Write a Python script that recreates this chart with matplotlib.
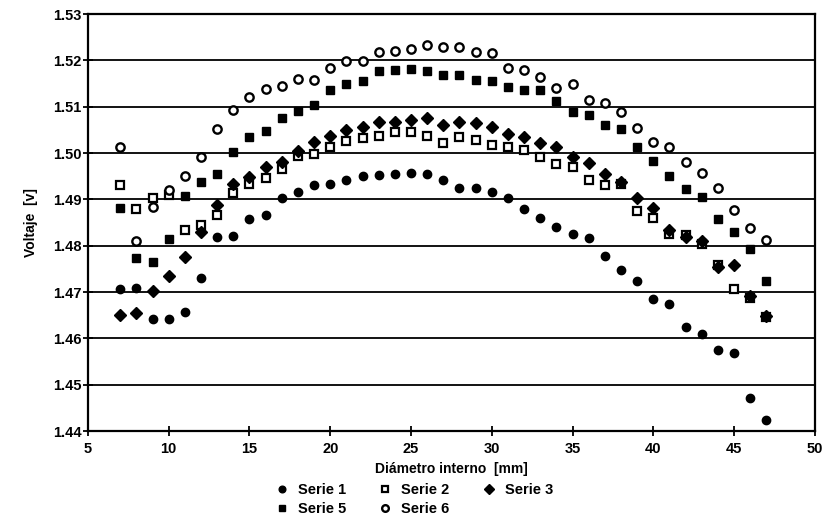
import matplotlib
matplotlib.use("Agg")
import matplotlib.pyplot as plt

plt.rcParams['font.family'] = ['Liberation Sans', 'DejaVu Sans']
plt.rcParams['font.weight'] = 'bold'

diametro = [7, 8, 9, 10, 11, 12, 13, 14, 15, 16, 17, 18, 19, 20, 21, 22, 23, 24,
            25, 26, 27, 28, 29, 30, 31, 32, 33, 34, 35, 36, 37, 38, 39, 40, 41,
            42, 43, 44, 45, 46, 47]

serie1 = [1.4706, 1.4708, 1.4641, 1.4643, 1.4657, 1.4731, 1.4818, 1.4820, 1.4857,
          1.4866, 1.4903, 1.4915, 1.4932, 1.4933, 1.4942, 1.4951, 1.4953, 1.4955,
          1.4956, 1.4955, 1.4942, 1.4924, 1.4924, 1.4917, 1.4904, 1.4879, 1.4860,
          1.4840, 1.4826, 1.4817, 1.4778, 1.4747, 1.4723, 1.4686, 1.4675, 1.4625,
          1.4610, 1.4574, 1.4568, 1.4472, 1.4425]

serie2 = [1.4932, 1.4879, 1.4902, 1.4909, 1.4835, 1.4845, 1.4866, 1.4914, 1.4934,
          1.4947, 1.4965, 1.4994, 1.4999, 1.5012, 1.5025, 1.5032, 1.5037, 1.5046,
          1.5046, 1.5037, 1.5022, 1.5035, 1.5028, 1.5017, 1.5012, 1.5007, 1.4991,
          1.4976, 1.4969, 1.4942, 1.4931, 1.4933, 1.4874, 1.4860, 1.4825, 1.4824,
          1.4804, 1.4758, 1.4706, 1.4688, 1.4646]

serie3 = [1.4651, 1.4655, 1.4703, 1.4735, 1.4775, 1.4830, 1.4889, 1.4934, 1.4949,
          1.4970, 1.4980, 1.5005, 1.5023, 1.5037, 1.5050, 1.5057, 1.5066, 1.5068,
          1.5071, 1.5076, 1.5061, 1.5068, 1.5064, 1.5057, 1.5042, 1.5034, 1.5021,
          1.5014, 1.4991, 1.4978, 1.4955, 1.4937, 1.4902, 1.4881, 1.4833, 1.4818,
          1.4810, 1.4754, 1.4759, 1.4692, 1.4649]

serie5 = [1.4882, 1.4773, 1.4766, 1.4814, 1.4907, 1.4937, 1.4954, 1.5003, 1.5035,
          1.5048, 1.5075, 1.5091, 1.5104, 1.5136, 1.5149, 1.5156, 1.5176, 1.5179,
          1.5181, 1.5176, 1.5169, 1.5169, 1.5158, 1.5156, 1.5143, 1.5136, 1.5135,
          1.5113, 1.5089, 1.5083, 1.5061, 1.5052, 1.5012, 1.4982, 1.4951, 1.4922,
          1.4906, 1.4857, 1.4830, 1.4794, 1.4724]

serie6 = [1.5014, 1.4810, 1.4884, 1.4921, 1.4950, 1.4992, 1.5052, 1.5093, 1.5122,
          1.5138, 1.5145, 1.5159, 1.5158, 1.5183, 1.5198, 1.5199, 1.5219, 1.5221,
          1.5224, 1.5234, 1.5229, 1.5229, 1.5219, 1.5215, 1.5183, 1.5179, 1.5165,
          1.5140, 1.5150, 1.5115, 1.5109, 1.5089, 1.5054, 1.5023, 1.5012, 1.4980,
          1.4957, 1.4924, 1.4877, 1.4839, 1.4812]

y_ticks = [1.44, 1.45, 1.46, 1.47, 1.48, 1.49, 1.50, 1.51, 1.52, 1.53]
x_ticks = [5, 10, 15, 20, 25, 30, 35, 40, 45, 50]

fig = plt.figure(figsize=(8.26, 5.29), dpi=100)
ax = fig.add_axes([0.1065, 0.185, 0.880, 0.7885])

for y in y_ticks[1:-1]:
    ax.axhline(y, color='black', lw=1.3, zorder=1)

s1, = ax.plot(diametro, serie1, 'o', color='black', ms=6, ls='none', label='Serie 1', zorder=3)
s2, = ax.plot(diametro, serie2, 's', color='black', mfc='white', mew=1.6, ms=5.5, ls='none', label='Serie 2', zorder=3)
s3, = ax.plot(diametro, serie3, 'D', color='black', ms=6, ls='none', label='Serie 3', zorder=3)
s5, = ax.plot(diametro, serie5, 's', color='black', ms=5.5, ls='none', label='Serie 5', zorder=3)
s6, = ax.plot(diametro, serie6, 'o', color='black', mfc='white', mew=1.7, ms=6, ls='none', label='Serie 6', zorder=3)

ax.set_xlim(5, 50)
ax.set_ylim(1.44, 1.53)
ax.set_xticks(x_ticks)
ax.set_yticks(y_ticks)
ax.set_xticklabels([str(t) for t in x_ticks])
ax.set_yticklabels([f'{t:.2f}' for t in y_ticks])
ax.tick_params(direction='inout', length=7, width=1.3, labelsize=10.5)
ax.tick_params(axis='x', pad=4)
ax.tick_params(axis='y', pad=1)
for sp in ax.spines.values():
    sp.set_linewidth(1.6)

ax.set_xlabel('Diámetro interno  [mm]', fontsize=10, fontweight='bold', labelpad=5)
ax.set_ylabel('Voltaje  [v]', fontsize=10, fontweight='bold', labelpad=11)

fig.legend([s1, s5, s2, s6, s3], ['Serie 1', 'Serie 5', 'Serie 2', 'Serie 6', 'Serie 3'],
           ncol=3, loc='lower center', bbox_to_anchor=(0.50, 0.0), frameon=False,
           prop={'size': 10.5, 'weight': 'bold'}, handletextpad=0.5, columnspacing=2.1,
           handlelength=1.2, labelspacing=0.35, markerscale=0.8)

fig.savefig('out.png', dpi=100)
